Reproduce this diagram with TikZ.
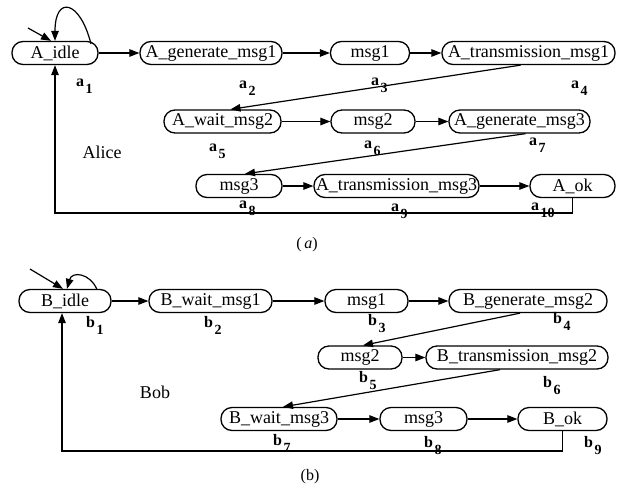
\documentclass[tikz,border=0pt]{standalone}
\usepackage{fontspec}
\setmainfont{Liberation Serif}
\usetikzlibrary{arrows.meta,calc}
\newcommand\lb[2]{#1\kern1.5pt\raisebox{-7pt}{\fontsize{14}{14}\selectfont #2}}
\begin{document}
\begin{tikzpicture}[x=1pt,y=-1pt,
  st/.style={draw,line width=1.3pt,rounded corners=11pt,minimum height=23pt,inner sep=0pt,font=\fontsize{18}{18}\selectfont},
  ar/.style={line width=1.2pt,-{Triangle[length=10pt,width=7.5pt]}},
  lbl/.style={inner sep=0pt,anchor=base west,font=\fontsize{16}{16}\selectfont\bfseries},
  txt/.style={inner sep=0pt,font=\fontsize{18}{18}\selectfont},
  captxt/.style={inner sep=0pt,font=\fontsize{16}{16}\selectfont}]
\useasboundingbox (0,0) rectangle (621,488);
% ---------- (a) Alice ----------
\node[st,minimum width=86pt]  (Aidle)  at (55,53)    {A\_idle};
\node[st,minimum width=142pt] (gen1)   at (211,53)   {A\_generate\_msg1};
\node[st,minimum width=79pt]  (msg1a)  at (370,53)   {msg1};
\node[st,minimum width=173pt] (trans1) at (528.5,53) {A\_transmission\_msg1};
\node[st,minimum width=117pt] (wait2)  at (222.5,121.5) {A\_wait\_msg2};
\node[st,minimum width=84pt]  (msg2a)  at (373,121.5) {msg2};
\node[st,minimum width=141pt] (gen3)   at (519.5,121.5) {A\_generate\_msg3};
\node[st,minimum width=86pt]  (msg3a)  at (239,186)  {msg3};
\node[st,minimum width=165pt] (trans3) at (396.5,186) {A\_transmission\_msg3};
\node[st,minimum width=85pt]  (Aok)    at (572.5,186) {A\_ok};
\node[txt] (alice) at (102,152) {Alice};
\node[lbl] (la1) at (76,86.5) {\lb{a}{1}};
\node[lbl] (la2) at (239,88.5) {\lb{a}{2}};
\node[lbl] (la3) at (371,85.5) {\lb{a}{3}};
\node[lbl] (la4) at (571,88.5) {\lb{a}{4}};
\node[lbl] (la5) at (209,151.5) {\lb{a}{5}};
\node[lbl] (la6) at (364,148.5) {\lb{a}{6}};
\node[lbl] (la7) at (529,145.5) {\lb{a}{7}};
\node[lbl] (la8) at (239,208.5) {\lb{a}{8}};
\node[lbl] (la9) at (391,211.5) {\lb{a}{9}};
\node[lbl] (la10) at (531,210.5) {\lb{a}{10}};
\node[captxt] (capa) at (307,245) {(\,\textit{a})};
\draw[ar] (Aidle) -- (gen1);
\draw[ar] (gen1) -- (msg1a);
\draw[ar] (msg1a) -- (trans1);
\draw[ar] ([xshift=-8pt]trans1.south) -- ([xshift=8pt]wait2.north);
\draw[ar] (wait2) -- (msg2a);
\draw[ar] (msg2a) -- (gen3);
\draw[ar] ([xshift=6pt]gen3.south) -- ([xshift=6pt]msg3a.north);
\draw[ar] (msg3a) -- (trans3);
\draw[ar] (trans3) -- (Aok);
\coordinate (aret) at (55,213);
\draw[ar] (Aok.south) |- (aret) -- (Aidle.south);
\coordinate (aloop) at (91,44);
\draw[ar] (aloop) .. controls (80,0) and (55,-5) .. (Aidle.north);
\coordinate (ainit) at (28,28);
\draw[ar] (ainit) -- ([xshift=-4pt]Aidle.north);
% ---------- (b) Bob ----------
\node[st,minimum width=92pt]  (Bidle)  at (65,301)    {B\_idle};
\node[st,minimum width=123pt] (Bwait1) at (210.5,301)  {B\_wait\_msg1};
\node[st,minimum width=83pt]  (msg1b)  at (366.5,301)  {msg1};
\node[st,minimum width=158pt] (Bgen2)  at (528,301)    {B\_generate\_msg2};
\node[st,minimum width=84pt]  (msg2b)  at (360,357.5)  {msg2};
\node[st,minimum width=182pt] (Btrans2) at (517,357.5) {B\_transmission\_msg2};
\node[st,minimum width=116pt] (Bwait3) at (279,419)    {B\_wait\_msg3};
\node[st,minimum width=87pt]  (msg3b)  at (423.5,419)  {msg3};
\node[st,minimum width=89pt]  (Bok)    at (562.5,419)  {B\_ok};
\node[txt] (bob) at (155,392) {Bob};
\node[lbl] (lb1) at (86,327) {\lb{b}{1}};
\node[lbl] (lb2) at (204,327) {\lb{b}{2}};
\node[lbl] (lb3) at (368,325) {\lb{b}{3}};
\node[lbl] (lb4) at (553,323) {\lb{b}{4}};
\node[lbl] (lb5) at (359,382) {\lb{b}{5}};
\node[lbl] (lb6) at (543,387) {\lb{b}{6}};
\node[lbl] (lb7) at (273,445) {\lb{b}{7}};
\node[lbl] (lb8) at (424,447) {\lb{b}{8}};
\node[lbl] (lb9) at (584,447) {\lb{b}{9}};
\node[captxt] (capb) at (310,477) {(b)};
\draw[ar] (Bidle) -- (Bwait1);
\draw[ar] (Bwait1) -- (msg1b);
\draw[ar] (msg1b) -- (Bgen2);
\draw[ar] ([xshift=-8pt]Bgen2.south) -- ([xshift=3pt]msg2b.north);
\draw[ar] (msg2b) -- (Btrans2);
\draw[ar] ([xshift=-17pt]Btrans2.south) -- ([xshift=4pt]Bwait3.north);
\draw[ar] (Bwait3) -- (msg3b);
\draw[ar] (msg3b) -- (Bok);
\coordinate (bret) at (62,451);
\draw[ar] (Bok.south) |- (bret) -- (Bidle.south -| bret);
\coordinate (bloop) at (97,289.5);
\draw[ar] (bloop) .. controls (90,273) and (72,271) .. ([xshift=2pt]Bidle.north);
\coordinate (binit) at (30,269);
\draw[ar] (binit) -- ([xshift=-2pt]Bidle.north);
\end{tikzpicture}
\end{document}
